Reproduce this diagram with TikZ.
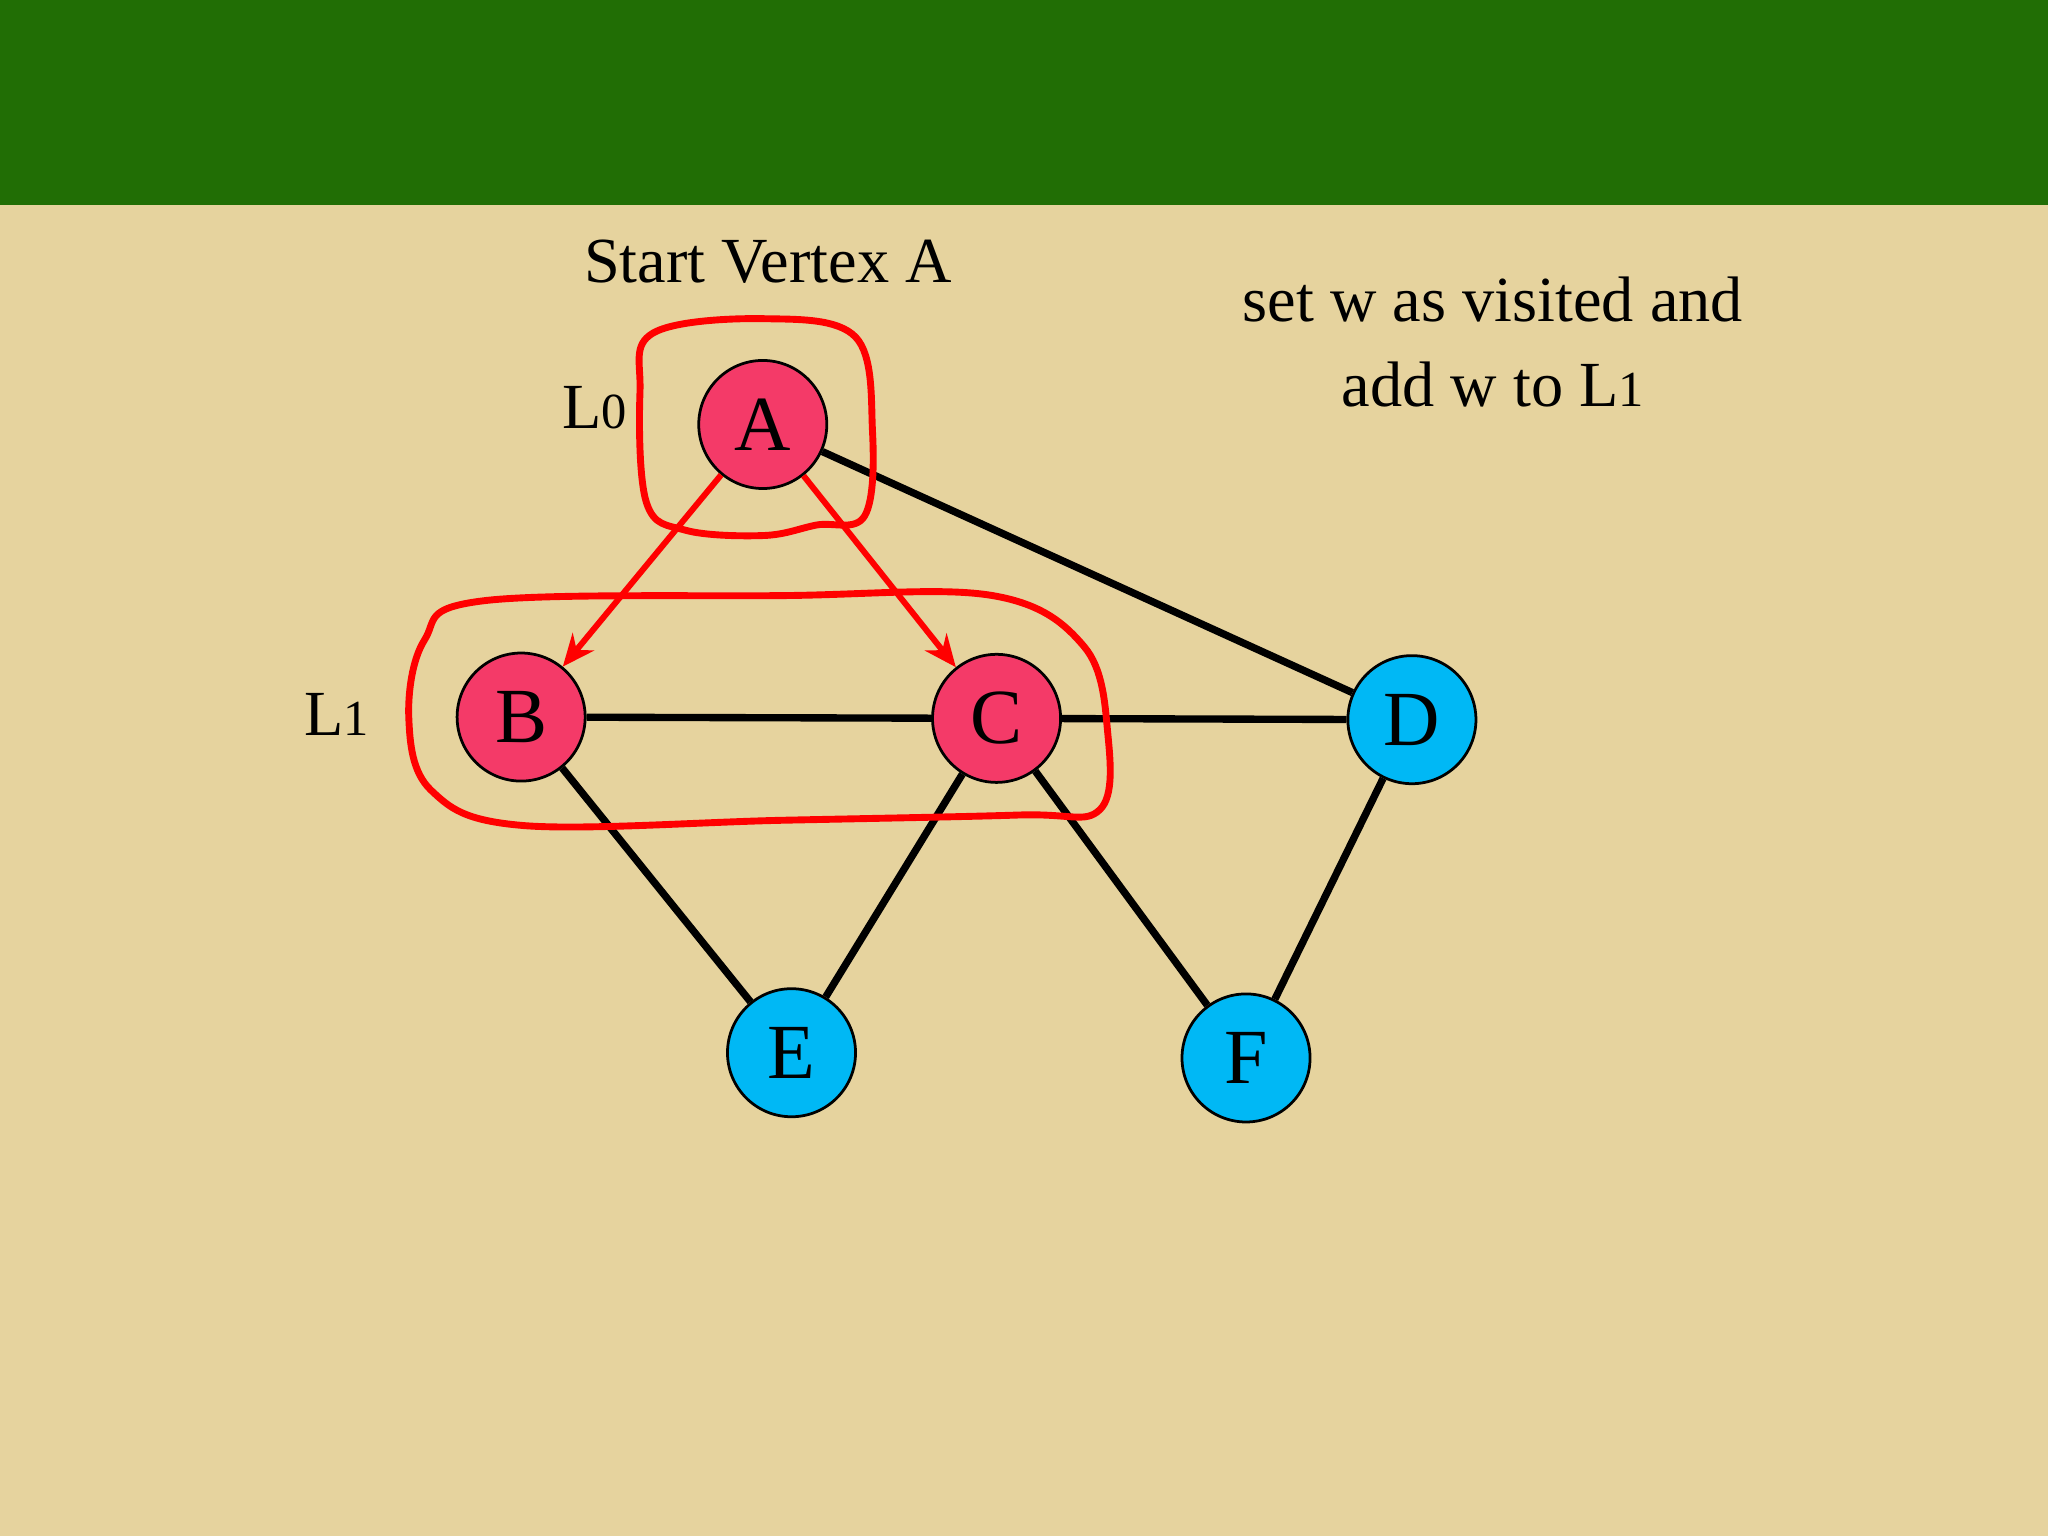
\documentclass[tikz,border=0pt]{standalone}
\usepackage{fontspec}
\setmainfont{Liberation Serif}
\usetikzlibrary{arrows.meta}
\definecolor{bg}{HTML}{E6D39E}
\definecolor{band}{HTML}{216E05}
\definecolor{pinkn}{HTML}{F43A68}
\definecolor{bluen}{HTML}{00B8F5}
\begin{document}
\begin{tikzpicture}[x=0.01cm,y=-0.01cm,
  vert/.style={circle,draw=black,line width=0.6pt,minimum size=0.98cm,inner sep=0pt,font=\fontsize{17}{17}\selectfont},
  edge/.style={line width=1.6pt,black},
  redarrow/.style={line width=1.3pt,red,-{Stealth[length=7pt,width=6pt]}},
  loop/.style={line width=1.5pt,red},
  lbl/.style={font=\fontsize{14}{16}\selectfont,align=center}]
\fill[bg] (0,0) rectangle (1568,1176);
\fill[band] (0,0) rectangle (1568,157);
\useasboundingbox (0,0) rectangle (1568,1176);
\node[vert,fill=pinkn] (A) at (584,325) {A};
\node[vert,fill=pinkn] (B) at (399,549) {B};
\node[vert,fill=pinkn] (C) at (763,550) {C};
\node[vert,fill=bluen] (D) at (1081,551) {D};
\node[vert,fill=bluen] (E) at (606,806) {E};
\node[vert,fill=bluen] (F) at (954,810) {F};
\draw[edge] (A) -- (D);
\draw[edge] (B) -- (C);
\draw[edge] (C) -- (D);
\draw[edge] (B) -- (E);
\draw[edge] (C) -- (E);
\draw[edge] (C) -- (F);
\draw[edge] (D) -- (F);
\draw[redarrow] (A) -- (B);
\draw[redarrow] (A) -- (C);
\draw[loop] plot[smooth cycle,tension=0.6] coordinates {(500,255) (585,244) (655,258) (668,330) (662,395) (625,402) (585,410) (525,406) (495,385) (490,300)};
\draw[loop] plot[smooth cycle,tension=0.6] coordinates {(370,460) (600,456) (760,456) (830,495) (848,560) (842,620) (780,624) (600,628) (400,632) (330,605) (313,550) (325,490)};
\node[lbl] (title) at (588,200) {Start Vertex A};
\node[lbl] (l0) at (455,312) {L\fontsize{11}{11}\selectfont 0};
\node[lbl] (l1) at (258,547) {L\fontsize{11}{11}\selectfont 1};
\node[lbl,font=\fontsize{14}{18.5}\selectfont] (txt) at (1143,262) {set w as visited and\\add w to L{\fontsize{11}{11}\selectfont 1}};
\end{tikzpicture}
\end{document}
